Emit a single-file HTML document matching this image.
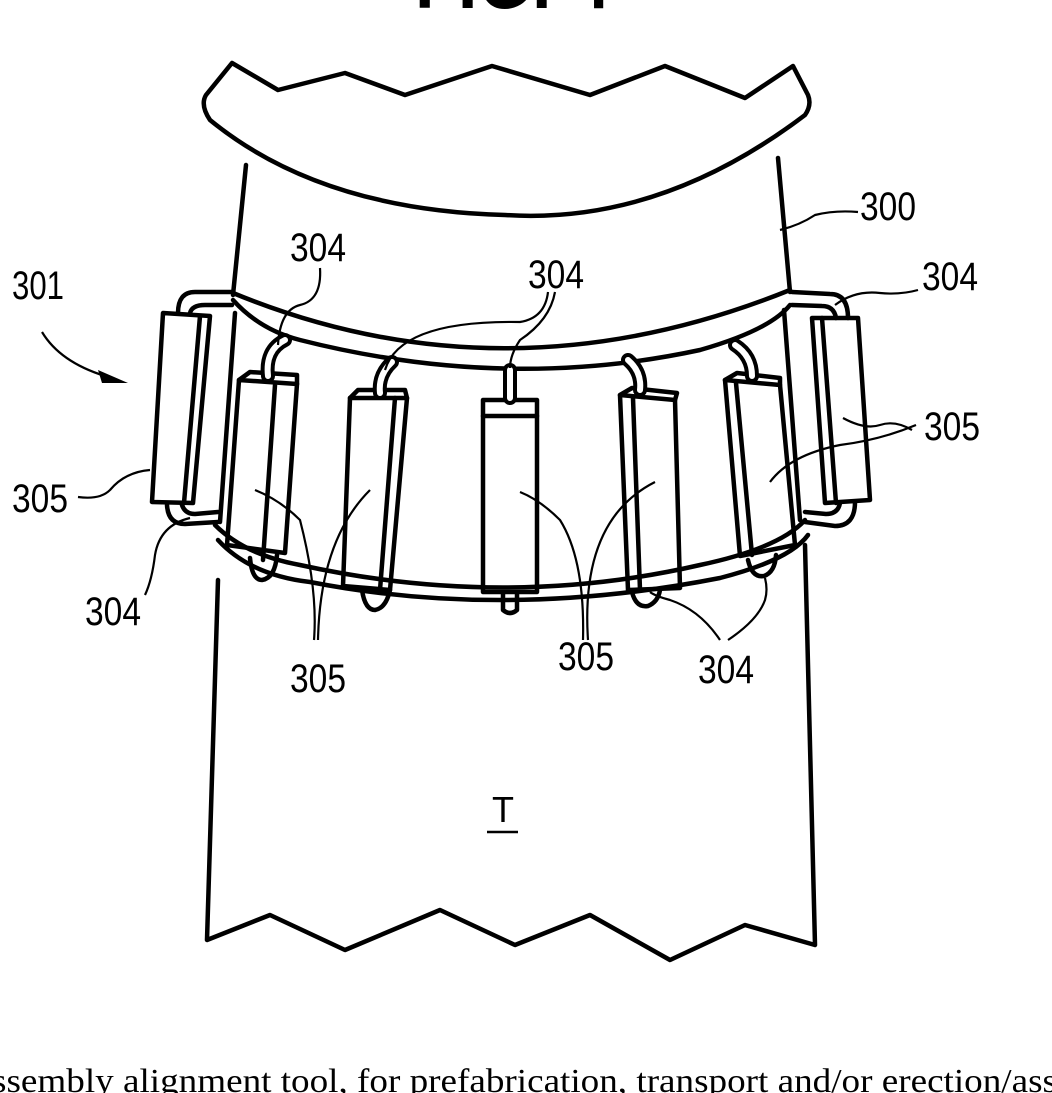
<!DOCTYPE html>
<html><head><style>
html,body{margin:0;padding:0;background:#fff;}
svg{display:block;}
text{font-family:"Liberation Sans",sans-serif;fill:#000;}
</style></head><body>
<svg width="1052" height="1093" viewBox="0 0 1052 1093" xmlns="http://www.w3.org/2000/svg">
<g fill="none" stroke="#000" stroke-width="4.5" stroke-linejoin="round" stroke-linecap="round">
<path d="M232,63 L278,90 L345,73 L405,95 L492,66 L590,95 L665,66 L745,98 L793,66 L808,95 Q812,105 805,115 Q660,225 505,215 Q320,210 210,120 Q200,105 206,95 Z"/>
<path d="M246,165 L233,295"/>
<path d="M778,158 L790,292"/>
<path d="M233,293 Q505,405 790,290"/>
<path d="M233,300 Q260,330 300,340 Q505,392 700,350 Q770,330 790,305"/>
<path d="M235,313 L220,522"/>
<path d="M784,310 L800,520"/>
<path d="M215,525 Q245,555 300,565 Q505,610 700,565 Q780,548 805,520"/>
<path d="M218,540 Q250,575 310,582 Q505,620 720,578 Q790,560 808,535"/>
<path d="M218,580 L207,940 L270,915 L345,950 L440,910 L515,945 L590,915 L670,960 L745,925 L815,945 L805,545"/>
<path d="M163,313 L210,316 L193,503 L152,502 Z"/>
<path d="M200,316 L184,503"/>
<path d="M178,313 Q178,292 195,292 L232,292"/>
<path d="M190,313 Q192,305 205,305 L232,305"/>
<path d="M167,505 Q168,524 185,524 L218,522"/>
<path d="M182,505 Q185,514 195,514 L218,512"/>
<path d="M812,318 L858,318 L870,500 L825,503 Z"/>
<path d="M822,318 L836,503"/>
<path d="M848,318 Q848,294 830,294 L792,292"/>
<path d="M836,318 Q834,306 822,306 L792,305"/>
<path d="M855,502 Q855,526 835,526 L805,522"/>
<path d="M840,503 Q838,514 826,514 L805,512"/>
<path d="M239,380 L297,384 L285,553 L227,545 Z"/>
<path d="M239,380 L250,372 L297,375 L297,384"/>
<path d="M275,385 L263,560"/>
<path d="M268,376 Q265,350 285,340" stroke-width="14"/>
<path d="M268,376 Q265,350 285,340" stroke="#fff" stroke-width="6"/>
<path d="M250,558 Q252,580 262,580 Q275,578 277,555"/>
<path d="M350,398 L407,398 L390,590 L343,586 Z"/>
<path d="M350,398 L358,390 L405,390 L407,398"/>
<path d="M395,398 L380,590"/>
<path d="M380,393 Q378,375 392,362" stroke-width="14"/>
<path d="M380,393 Q378,375 392,362" stroke="#fff" stroke-width="6"/>
<path d="M362,590 Q365,610 375,610 Q386,608 390,590"/>
<path d="M483,400 L537,400 L537,592 L483,592 Z"/>
<path d="M483,416 L537,416"/>
<path d="M510,398 L510,370" stroke-width="14"/>
<path d="M510,398 L510,370" stroke="#fff" stroke-width="6"/>
<path d="M503,594 L503,610 Q510,616 517,610 L517,594"/>
<path d="M620,395 L675,400 L680,588 L628,590 Z"/>
<path d="M620,395 L632,388 L677,393 L675,400"/>
<path d="M633,398 L640,590"/>
<path d="M640,390 Q642,372 628,360" stroke-width="14"/>
<path d="M640,390 Q642,372 628,360" stroke="#fff" stroke-width="6"/>
<path d="M632,592 Q636,608 648,606 Q658,602 660,590"/>
<path d="M725,380 L780,385 L795,545 L740,556 Z"/>
<path d="M725,380 L737,373 L780,378 L780,385"/>
<path d="M736,383 L752,555"/>
<path d="M752,376 Q752,356 735,345" stroke-width="14"/>
<path d="M752,376 Q752,356 735,345" stroke="#fff" stroke-width="6"/>
<path d="M748,560 Q752,578 764,576 Q775,572 776,555"/>
</g>
<g fill="none" stroke="#000" stroke-width="2.2">
<path d="M780,230 Q800,225 815,215 Q835,210 858,212"/>
<path d="M320,268 Q322,300 300,305 Q280,310 278,345"/>
<path d="M548,292 Q545,318 520,322 Q400,320 385,370"/>
<path d="M555,292 Q550,320 520,340 Q510,355 510,368"/>
<path d="M918,290 Q900,295 880,293 Q855,290 835,305"/>
<path d="M42,332 Q60,362 105,376"/>
<path d="M912,430 Q895,420 880,425 Q865,430 843,418"/>
<path d="M916,425 Q880,440 840,445 Q790,455 770,482"/>
<path d="M78,497 Q100,500 110,490 Q125,472 150,470"/>
<path d="M145,595 Q152,580 155,555 Q160,525 190,518"/>
<path d="M314,640 Q318,590 300,520 Q280,500 255,490"/>
<path d="M318,640 Q320,540 370,490"/>
<path d="M583,640 Q585,560 560,520 Q540,500 520,492"/>
<path d="M588,640 Q580,520 655,482"/>
<path d="M720,640 Q700,610 670,600 Q655,596 650,592"/>
<path d="M728,640 Q758,620 765,600 Q768,590 765,578"/>
</g>
<path d="M98,370 L128,383 L102,383 Z" fill="#000"/>
<g font-size="40">
<text x="860" y="220" textLength="56" lengthAdjust="spacingAndGlyphs">300</text>
<text x="290" y="261" textLength="56" lengthAdjust="spacingAndGlyphs">304</text>
<text x="528" y="288" textLength="56" lengthAdjust="spacingAndGlyphs">304</text>
<text x="922" y="290" textLength="56" lengthAdjust="spacingAndGlyphs">304</text>
<text x="12" y="299" textLength="52" lengthAdjust="spacingAndGlyphs">301</text>
<text x="924" y="440" textLength="56" lengthAdjust="spacingAndGlyphs">305</text>
<text x="12" y="512" textLength="56" lengthAdjust="spacingAndGlyphs">305</text>
<text x="85" y="625" textLength="56" lengthAdjust="spacingAndGlyphs">304</text>
<text x="290" y="692" textLength="56" lengthAdjust="spacingAndGlyphs">305</text>
<text x="558" y="670" textLength="56" lengthAdjust="spacingAndGlyphs">305</text>
<text x="698" y="683" textLength="56" lengthAdjust="spacingAndGlyphs">304</text>
<text x="492" y="822" font-size="36">T</text>
</g>
<line x1="487" y1="832" x2="518" y2="832" stroke="#000" stroke-width="2.5"/>
<text x="415" y="8" font-size="90" font-weight="bold" textLength="195" lengthAdjust="spacingAndGlyphs">FIG. 4</text>
<text x="-8" y="1092" font-size="34" style="font-family:'Liberation Serif',serif" textLength="1065" lengthAdjust="spacingAndGlyphs">ssembly alignment tool, for prefabrication, transport and/or erection/ass</text>
</svg>
</body></html>
